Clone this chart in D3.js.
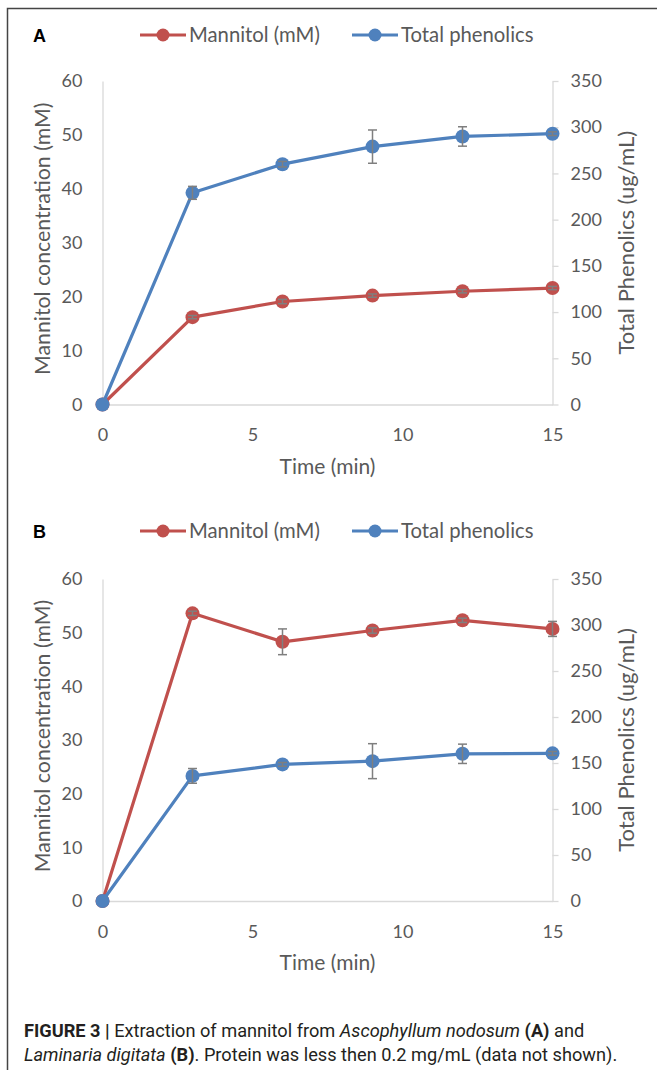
<!DOCTYPE html>
<html>
<head>
<meta charset="utf-8">
<script src="https://cdn.jsdelivr.net/npm/d3@7"></script>
<style>
  body { margin: 0; background: #fff; }
  svg { display: block; }
</style>
</head>
<body>
<script>
// time points (min)
var times = [0, 3, 6, 9, 12, 15];

// panel A - Ascophyllum nodosum
var mannitolA = [0, 16.2, 19.1, 20.2, 21.0, 21.6];
var mannitolErrA = [0, 0.3, 0.4, 0.3, 0.3, 0.3];
var phenolicsA = [0, 229, 260, 279, 290, 293];
var phenolicsErrA = [0, 7, 3, 18, 10.5, 2];

// panel B - Laminaria digitata
var mannitolB = [0, 53.6, 48.3, 50.4, 52.3, 50.7];
var mannitolErrB = [0, 0.4, 2.4, 0.5, 0.4, 1.4];
var phenolicsB = [0, 136, 148.5, 152, 160, 160.5];
var phenolicsErrB = [0, 8, 2, 19, 10.5, 2];

// ticks
var xTicks = [0, 5, 10, 15];
var leftTicks = [0, 10, 20, 30, 40, 50, 60];
var rightTicks = [0, 50, 100, 150, 200, 250, 300, 350];

var seriesNames = ["Mannitol (mM)", "Total phenolics"];
var red = "#c0504d", blue = "#4f81bd";
var gridGray = "#d9d9d9", textGray = "#595959";
var font = "Lato, 'Open Sans', sans-serif";

var width = 657, height = 1070;

var svg = d3.select("body").append("svg")
    .attr("width", width)
    .attr("height", height);

// figure frame
svg.append("path")
    .attr("d", "M7.5,1075 V8.5 H665")
    .attr("fill", "none")
    .attr("stroke", "#444")
    .attr("stroke-width", 1.5);

function drawPanel(letter, top, bottom, legendY, mannitol, mannitolErr, phenolics, phenolicsErr) {
    var g = svg.append("g");

    var x = d3.scaleLinear().domain([0, 15]).range([102.5, 552.5]);
    var yL = d3.scaleLinear().domain([0, 60]).range([bottom, top]);
    var yR = d3.scaleLinear().domain([0, 350]).range([bottom, top]);

    // panel letter
    g.append("text")
        .attr("x", 33).attr("y", legendY + 6.5)
        .attr("font-family", "'Liberation Sans', Arial, sans-serif")
        .attr("font-weight", "bold")
        .attr("font-size", 18)
        .text(letter);

    // legend
    var legend = [
        {name: seriesNames[0], color: red, x0: 140},
        {name: seriesNames[1], color: blue, x0: 352}
    ];
    var lg = g.selectAll(".legend").data(legend).enter().append("g");
    lg.append("line")
        .attr("x1", d => d.x0).attr("x2", d => d.x0 + 46)
        .attr("y1", legendY).attr("y2", legendY)
        .attr("stroke", d => d.color).attr("stroke-width", 3);
    lg.append("circle")
        .attr("cx", d => d.x0 + 23).attr("cy", legendY).attr("r", 6.5)
        .attr("fill", d => d.color);
    lg.append("text")
        .attr("x", d => d.x0 + 49).attr("y", legendY + 7)
        .attr("font-family", font).attr("font-size", 20.3)
        .attr("fill", textGray)
        .text(d => d.name);

    // left axis
    var leftAxis = g.append("g")
        .attr("transform", `translate(${x(0)},0)`)
        .call(d3.axisLeft(yL).tickValues(leftTicks).tickSize(0).tickPadding(20));
    leftAxis.select(".domain").attr("stroke", gridGray).attr("stroke-width", 1.3);

    // right axis
    var rightAxis = g.append("g")
        .attr("transform", `translate(${x(15)},0)`)
        .call(d3.axisRight(yR).tickValues(rightTicks).tickSize(6).tickSizeOuter(0).tickPadding(12));
    rightAxis.select(".domain").attr("stroke", gridGray).attr("stroke-width", 1.3);
    rightAxis.selectAll(".tick line").attr("stroke", gridGray).attr("stroke-width", 1.3);

    // bottom axis
    var bottomAxis = g.append("g")
        .attr("transform", `translate(0,${bottom})`)
        .call(d3.axisBottom(x).tickValues(xTicks).tickSize(0).tickSizeOuter(0).tickPadding(24));
    bottomAxis.select(".domain").attr("stroke", gridGray).attr("stroke-width", 1.3);

    g.selectAll(".tick text")
        .attr("font-family", font)
        .attr("font-size", 18)
        .attr("fill", textGray);

    // axis titles
    var mid = (top + bottom) / 2;
    g.append("text")
        .attr("transform", `translate(50,${mid - 4}) rotate(-90)`)
        .attr("text-anchor", "middle")
        .attr("font-family", font).attr("font-size", 21.3)
        .attr("fill", textGray)
        .text("Mannitol concentration (mM)");
    g.append("text")
        .attr("transform", `translate(634,${mid}) rotate(-90)`)
        .attr("text-anchor", "middle")
        .attr("font-family", font).attr("font-size", 22)
        .attr("fill", textGray)
        .text("Total Phenolics (ug/mL)");
    g.append("text")
        .attr("x", (x(0) + x(15)) / 2).attr("y", bottom + 69)
        .attr("text-anchor", "middle")
        .attr("font-family", font).attr("font-size", 21)
        .attr("fill", textGray)
        .text("Time (min)");

    var series = [
        {values: mannitol, err: mannitolErr, y: yL, color: red},
        {values: phenolics, err: phenolicsErr, y: yR, color: blue}
    ];

    series.forEach(function(s) {
        var pts = times.map((t, i) => ({t: t, v: s.values[i], e: s.err[i]}));
        var line = d3.line().x(d => x(d.t)).y(d => s.y(d.v));

        g.append("path")
            .datum(pts)
            .attr("d", line)
            .attr("fill", "none")
            .attr("stroke", s.color)
            .attr("stroke-width", 3.2)
            .attr("stroke-linejoin", "round");

        g.append("g").selectAll("circle").data(pts).enter().append("circle")
            .attr("cx", d => x(d.t))
            .attr("cy", d => s.y(d.v))
            .attr("r", 7)
            .attr("fill", s.color);

        // error bars
        var eb = g.append("g")
            .attr("stroke", "#7f7f7f")
            .attr("stroke-width", 1.5)
            .selectAll("g").data(pts.filter(d => d.e > 0)).enter().append("g");
        eb.append("line")
            .attr("x1", d => x(d.t)).attr("x2", d => x(d.t))
            .attr("y1", d => s.y(d.v - d.e)).attr("y2", d => s.y(d.v + d.e));
        eb.append("line")
            .attr("x1", d => x(d.t) - 4.5).attr("x2", d => x(d.t) + 4.5)
            .attr("y1", d => s.y(d.v + d.e)).attr("y2", d => s.y(d.v + d.e));
        eb.append("line")
            .attr("x1", d => x(d.t) - 4.5).attr("x2", d => x(d.t) + 4.5)
            .attr("y1", d => s.y(d.v - d.e)).attr("y2", d => s.y(d.v - d.e));
    });
}

drawPanel("A", 81, 404.5, 35, mannitolA, mannitolErrA, phenolicsA, phenolicsErrA);
drawPanel("B", 579, 901, 531, mannitolB, mannitolErrB, phenolicsB, phenolicsErrB);

// caption
var cap = svg.append("text")
    .attr("font-family", "Roboto, sans-serif")
    .attr("font-size", 18.2)
    .attr("fill", "#231f20");
var line1 = cap.append("tspan").attr("x", 24).attr("y", 1037);
line1.append("tspan").attr("font-weight", "bold").text("FIGURE 3 | ");
line1.append("tspan").text("Extraction of mannitol from ");
line1.append("tspan").attr("font-style", "italic").text("Ascophyllum nodosum");
line1.append("tspan").attr("font-weight", "bold").text(" (A)");
line1.append("tspan").text(" and");
var line2 = cap.append("tspan").attr("x", 24).attr("y", 1061);
line2.append("tspan").attr("font-style", "italic").text("Laminaria digitata");
line2.append("tspan").attr("font-weight", "bold").text(" (B)");
line2.append("tspan").text(". Protein was less then 0.2 mg/mL (data not shown).");
</script>
</body>
</html>
